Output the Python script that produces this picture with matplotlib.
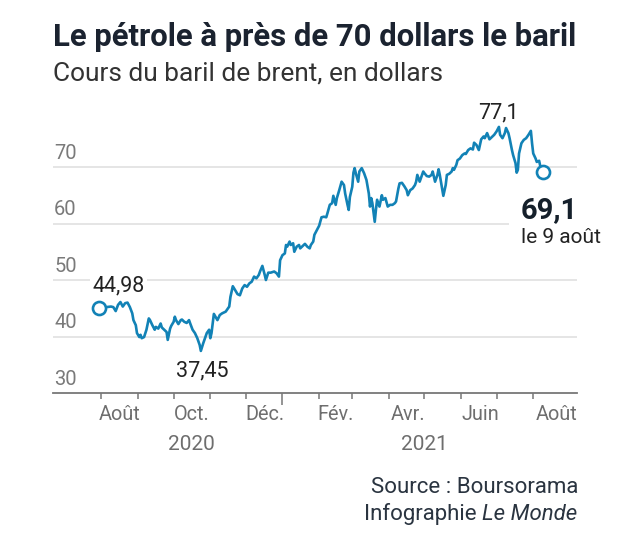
import matplotlib
matplotlib.use("Agg")
import matplotlib.pyplot as plt
import matplotlib.dates as mdates
import pandas as pd

plt.rcParams['font.family'] = ['Roboto', 'DejaVu Sans']

# Cours du brent (dollars)
dates = [
    "2020-07-30", "2020-08-05", "2020-08-09", "2020-08-11", "2020-08-13", "2020-08-15",
    "2020-08-17", "2020-08-19", "2020-08-21", "2020-08-23", "2020-08-25", "2020-08-27",
    "2020-08-28", "2020-08-30", "2020-08-31",
    "2020-09-02", "2020-09-03", "2020-09-04", "2020-09-06", "2020-09-08", "2020-09-10",
    "2020-09-11", "2020-09-13", "2020-09-15", "2020-09-16", "2020-09-18", "2020-09-20",
    "2020-09-21", "2020-09-23", "2020-09-25", "2020-09-26", "2020-09-28", "2020-09-29",
    "2020-10-01", "2020-10-02", "2020-10-03", "2020-10-05", "2020-10-07", "2020-10-08",
    "2020-10-10", "2020-10-12", "2020-10-14", "2020-10-15", "2020-10-17", "2020-10-19",
    "2020-10-21", "2020-10-23", "2020-10-24", "2020-10-26", "2020-10-29", "2020-10-31",
    "2020-11-01", "2020-11-02", "2020-11-04", "2020-11-07", "2020-11-09", "2020-11-11",
    "2020-11-14", "2020-11-17", "2020-11-18", "2020-11-20", "2020-11-22", "2020-11-24",
    "2020-11-26", "2020-11-28", "2020-11-30",
    "2020-12-02", "2020-12-04", "2020-12-06", "2020-12-08", "2020-12-10", "2020-12-12",
    "2020-12-13", "2020-12-15", "2020-12-17", "2020-12-18", "2020-12-20", "2020-12-22",
    "2020-12-25", "2020-12-27", "2020-12-29", "2020-12-30",
    "2021-01-01", "2021-01-03", "2021-01-04", "2021-01-05", "2021-01-07", "2021-01-08",
    "2021-01-10", "2021-01-11", "2021-01-13", "2021-01-15", "2021-01-16", "2021-01-18",
    "2021-01-20", "2021-01-22", "2021-01-24", "2021-01-25", "2021-01-27", "2021-01-28",
    "2021-01-30",
    "2021-02-01", "2021-02-03", "2021-02-05", "2021-02-07", "2021-02-08", "2021-02-10",
    "2021-02-12", "2021-02-13", "2021-02-15", "2021-02-16", "2021-02-18", "2021-02-20",
    "2021-02-22", "2021-02-23", "2021-02-25", "2021-02-26", "2021-02-27",
    "2021-03-01", "2021-03-02", "2021-03-03", "2021-03-04", "2021-03-06", "2021-03-07",
    "2021-03-09", "2021-03-11", "2021-03-13", "2021-03-15", "2021-03-16", "2021-03-17",
    "2021-03-18", "2021-03-20", "2021-03-21", "2021-03-22", "2021-03-24", "2021-03-26",
    "2021-03-27", "2021-03-29", "2021-03-31",
    "2021-04-02", "2021-04-04", "2021-04-06", "2021-04-07", "2021-04-09", "2021-04-10",
    "2021-04-12", "2021-04-14", "2021-04-16", "2021-04-17", "2021-04-19", "2021-04-21",
    "2021-04-23", "2021-04-24", "2021-04-25", "2021-04-27", "2021-04-28", "2021-04-30",
    "2021-05-01", "2021-05-03", "2021-05-05", "2021-05-07", "2021-05-08", "2021-05-10",
    "2021-05-12", "2021-05-13", "2021-05-14", "2021-05-16", "2021-05-17", "2021-05-19",
    "2021-05-20", "2021-05-22", "2021-05-24", "2021-05-25", "2021-05-26", "2021-05-28",
    "2021-05-29", "2021-05-31",
    "2021-06-02", "2021-06-04", "2021-06-05", "2021-06-07", "2021-06-09", "2021-06-11",
    "2021-06-12", "2021-06-14", "2021-06-16", "2021-06-18", "2021-06-20", "2021-06-21",
    "2021-06-23", "2021-06-25", "2021-06-27", "2021-06-29",
    "2021-07-01", "2021-07-03", "2021-07-04", "2021-07-06", "2021-07-08", "2021-07-09",
    "2021-07-11", "2021-07-12", "2021-07-14", "2021-07-15", "2021-07-17", "2021-07-18",
    "2021-07-19", "2021-07-20", "2021-07-22", "2021-07-24", "2021-07-26", "2021-07-28",
    "2021-07-30", "2021-07-31",
    "2021-08-01", "2021-08-03", "2021-08-04", "2021-08-06", "2021-08-07", "2021-08-09",
]
prix = [
    44.98, 45.2, 45.3, 45.2, 44.5, 45.6,
    46.1, 45.3, 45.9, 46.0, 45.2, 44.1,
    42.9, 42.0, 40.6,
    39.9, 40.3, 39.7, 39.9, 41.2, 43.2,
    42.9, 42.0, 41.2, 41.7, 41.4, 42.3,
    41.6, 41.2, 40.8, 39.4, 41.4, 41.9,
    42.6, 43.5, 42.9, 42.2, 42.9, 43.0,
    42.6, 42.4, 42.9, 42.3, 41.2, 40.6,
    39.7, 38.5, 37.45, 38.8, 40.6, 41.2,
    39.7, 40.6, 44.0, 42.9, 43.8, 44.1,
    44.4, 45.3, 47.0, 48.9, 48.2, 47.5,
    47.3, 48.5, 49.1,
    48.8, 49.4, 49.7, 50.6, 50.3, 50.9,
    51.5, 52.5, 50.9, 50.0, 51.3, 51.3,
    51.5, 51.2, 50.6, 53.5,
    54.4, 54.7, 56.2, 55.9, 56.8, 56.2,
    56.5, 55.0, 55.9, 56.2, 55.6, 56.0,
    56.4, 55.9, 55.6, 56.2, 56.8, 58.0,
    58.8,
    59.6, 61.1, 61.2, 61.1, 61.8, 63.3,
    63.6, 64.9, 63.3, 64.5, 65.9, 67.4,
    66.8, 65.3, 63.3, 62.4, 64.7,
    66.5, 69.0, 69.8, 68.9, 67.4, 69.2,
    69.8, 68.9, 67.7, 65.3, 63.0, 64.5,
    63.6, 60.3, 62.4, 64.2, 63.0, 65.0,
    64.2, 64.5, 63.0,
    63.3, 63.3, 63.6, 63.9, 66.2, 67.1,
    67.2, 66.6, 65.9, 65.0, 65.9, 66.2,
    66.8, 67.4, 68.6, 67.4, 68.0, 69.2,
    68.9, 68.4, 68.3, 68.6, 69.2, 67.4,
    68.6, 69.6, 68.6, 66.2, 64.9, 66.8,
    68.6, 68.8, 69.2, 69.8, 69.5, 70.4,
    71.2, 71.5,
    72.1, 72.4, 72.3, 73.0, 73.3, 73.1,
    74.3, 73.9, 73.0, 74.9, 75.4, 75.1,
    76.0, 74.9, 75.3, 75.7,
    76.3, 77.1, 75.7, 75.1, 76.0, 76.9,
    76.0, 75.1, 73.0, 72.1, 70.7, 69.0,
    69.5, 72.4, 74.2, 74.8, 75.1, 75.7,
    76.4, 74.2,
    72.4, 71.5, 70.9, 71.1, 70.1, 69.1,
]

debuts_mois = ["2020-08-01", "2020-09-01", "2020-10-01", "2020-11-01", "2020-12-01",
               "2021-01-01", "2021-02-01", "2021-03-01", "2021-04-01", "2021-05-01",
               "2021-06-01", "2021-07-01", "2021-08-01"]
mois_labels = ["Août", "Oct.", "Déc.", "Fév.", "Avr.", "Juin", "Août"]
mois_pos = ["2020-08-16", "2020-10-16", "2020-12-17", "2021-02-15", "2021-04-17",
            "2021-06-17", "2021-08-21"]
annees = ["2020", "2021"]
annees_pos = ["2020-10-16", "2021-05-01"]
y_valeurs = [30, 40, 50, 60, 70]

BLEU = "#1282b6"
W, H = 630, 549

x = mdates.date2num(pd.to_datetime(dates))
fig = plt.figure(figsize=(W / 100, H / 100), dpi=100)
ax = fig.add_axes([53 / W, (H - 393) / H, 524 / W, (393 - 110.5) / H])
ax.xaxis_date()
ax.set_xlim(mdates.datestr2num("2020-06-21"), mdates.datestr2num("2021-09-07"))
ax.set_ylim(30, 80)

ax.plot(x, prix, color=BLEU, lw=1.9, zorder=5, solid_joinstyle="round")
for i in (0, len(prix) - 1):
    ax.plot(x[i], prix[i], "o", ms=9.4, mfc="white", mec=BLEU, mew=1.9, zorder=6)

# grille et axes
ax.set_yticks([40, 50, 60, 70])
ax.yaxis.grid(True, color="#dedede", lw=1.1)
ax.tick_params(axis="y", length=0, labelleft=False)
ax.set_axisbelow(True)
for s in ("left", "right", "top"):
    ax.spines[s].set_visible(False)
ax.spines["bottom"].set_color("#777777")
ax.spines["bottom"].set_linewidth(1.3)

ax.set_xticks(mdates.datestr2num(debuts_mois))
ax.tick_params(axis="x", length=4.3, width=1.1, color="#777777", labelbottom=False)
ax.xaxis.get_major_ticks()[5].tick1line.set_markersize(8.5)

for v in y_valeurs:
    ax.annotate(str(v), xy=(0, v), xycoords=ax.get_yaxis_transform(),
                xytext=(0.8, 5.8), textcoords="offset points", ha="left", va="baseline",
                fontsize=14.5, color="#7a7a7a")

for lab, p in zip(mois_labels, mois_pos):
    ax.annotate(lab, xy=(mdates.datestr2num(p), 0), xycoords=ax.get_xaxis_transform(),
                xytext=(0, -19.4), textcoords="offset points", ha="center", va="baseline",
                fontsize=14.3, color="#6e6e6e")
for lab, p in zip(annees, annees_pos):
    ax.annotate(lab, xy=(mdates.datestr2num(p), 0), xycoords=ax.get_xaxis_transform(),
                xytext=(0, -41.2), textcoords="offset points", ha="center", va="baseline",
                fontsize=15, color="#6e6e6e")

# annotations
i_min = prix.index(min(prix))
i_max = prix.index(max(prix))
fin = len(prix) - 1
ax.annotate("44,98", xy=(x[0], prix[0]), xytext=(14, 12.5), textcoords="offset points",
            ha="center", va="baseline", fontsize=15.5, color="#222222", zorder=3,
            bbox=dict(boxstyle="square,pad=0.12", fc="white", ec="none"))
ax.annotate("37,45", xy=(x[i_min], prix[i_min]), xytext=(1, -18.6), textcoords="offset points",
            ha="center", va="baseline", fontsize=15.5, color="#222222")
ax.annotate("77,1", xy=(x[i_max], prix[i_max]), xytext=(0, 6.2), textcoords="offset points",
            ha="center", va="baseline", fontsize=15.5, color="#222222")
ax.annotate("69,1", xy=(x[fin], prix[fin]), xytext=(-16.2, -33), textcoords="offset points",
            ha="left", va="baseline", fontsize=21, fontweight="bold", color="#15202b",
            zorder=3, annotation_clip=False,
            bbox=dict(boxstyle="square,pad=0.4", fc="white", ec="none"))
ax.annotate("le 9 août", xy=(x[fin], prix[fin]), xytext=(-15.5, -51), textcoords="offset points",
            ha="left", va="baseline", fontsize=15, color="#222222", annotation_clip=False)


def ajuste(t, largeur):
    fig.canvas.draw()
    w = t.get_window_extent().width
    t.set_fontsize(t.get_fontsize() * largeur / w)


titre = fig.text(53 / W, 1 - 46 / H, "Le pétrole à près de 70 dollars le baril",
                 fontsize=20, fontweight="bold", color="#1b2330", va="baseline")
ajuste(titre, 524)
sous_titre = fig.text(53 / W, 1 - 81 / H, "Cours du baril de brent, en dollars",
                      fontsize=15, color="#333333", va="baseline")
ajuste(sous_titre, 391)

source = fig.text(578 / W, 1 - 493 / H, "Source : Boursorama", fontsize=14.5,
                  color="#2a3440", ha="right", va="baseline")
ajuste(source, 207)
monde = fig.text(577 / W, 1 - 520 / H, "Le Monde", fontsize=source.get_fontsize(),
                 style="italic", color="#2a3440", ha="right", va="baseline")
fig.canvas.draw()
x0 = monde.get_window_extent().x0
fig.text((x0 - 5) / W, 1 - 520 / H, "Infographie", fontsize=source.get_fontsize(),
         color="#2a3440", ha="right", va="baseline")

fig.savefig("out.png", dpi=100, facecolor="white")
